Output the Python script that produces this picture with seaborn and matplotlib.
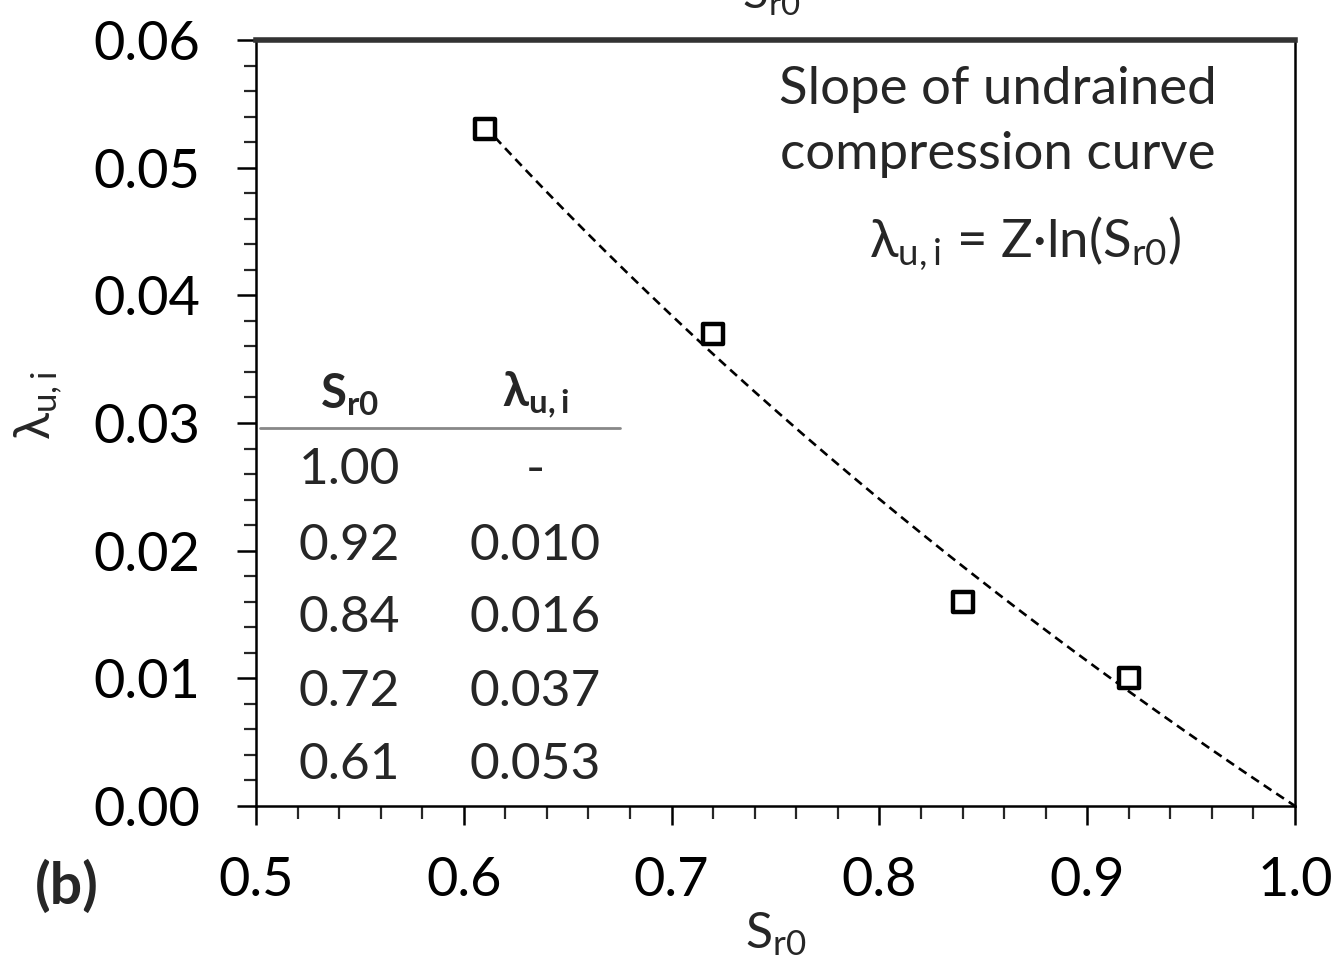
import numpy as np
import pandas as pd
import matplotlib
matplotlib.use("Agg")
import matplotlib.pyplot as plt
import seaborn as sns

# Measured initial degree of saturation and slope of undrained compression curve
sr0 = [0.61, 0.72, 0.84, 0.92]
lam_ui = [0.053, 0.037, 0.016, 0.010]

# Table rows shown inside the plot
table_sr0 = ["1.00", "0.92", "0.84", "0.72", "0.61"]
table_lam = ["-", "0.010", "0.016", "0.037", "0.053"]

x_ticks = [0.5, 0.6, 0.7, 0.8, 0.9, 1.0]
y_ticks = [0.00, 0.01, 0.02, 0.03, 0.04, 0.05, 0.06]

sns.set_theme(style="ticks")
plt.rcParams["font.family"] = ["Lato", "DejaVu Sans"]
plt.rcParams["mathtext.fontset"] = "custom"
plt.rcParams["mathtext.rm"] = "Lato"
plt.rcParams["mathtext.it"] = "Lato"
plt.rcParams["mathtext.bf"] = "Lato:bold"

fig = plt.figure(figsize=(13.43, 9.69), dpi=100)
ax = fig.add_axes([0.1906, 0.1682, 0.9643 - 0.1906, 0.9587 - 0.1682])

# Fit of lambda = Z * ln(Sr0) through the measurements (least squares, no intercept)
ln_s = np.log(np.array(sr0))
Z = np.sum(ln_s * np.array(lam_ui)) / np.sum(ln_s ** 2)
x_fit = np.linspace(min(sr0), 1.0, 200)
fit_df = pd.DataFrame({"Sr0": x_fit, "lam": Z * np.log(x_fit)})
sns.lineplot(data=fit_df, x="Sr0", y="lam", ax=ax, color="black",
             linewidth=1.9, linestyle=(0, (3.5, 2.2)))

pts = pd.DataFrame({"Sr0": sr0, "lam": lam_ui})
sns.scatterplot(data=pts, x="Sr0", y="lam", ax=ax, marker="s", s=200,
                facecolor="white", edgecolor="black", linewidth=3.2, zorder=5)

ax.set_xlim(0.5, 1.0)
ax.set_ylim(0.0, 0.06)
ax.set_xticks(x_ticks)
ax.set_xticklabels([f"{v:.1f}" for v in x_ticks])
ax.set_yticks(y_ticks)
ax.set_yticklabels([f"{v:.2f}" for v in y_ticks])
ax.set_xticks(np.arange(0.5, 1.0001, 0.02), minor=True)
ax.set_yticks(np.arange(0.0, 0.0601, 0.002), minor=True)

ax.tick_params(axis="both", which="major", direction="out", length=14, width=1.8,
               labelsize=39, colors="black")
ax.tick_params(axis="both", which="minor", direction="out", length=9, width=1.6)
ax.tick_params(axis="y", which="major", pad=26)
ax.tick_params(axis="x", which="major", pad=22)

for side in ["left", "bottom", "right"]:
    ax.spines[side].set_linewidth(1.8)
    ax.spines[side].set_color("black")
ax.spines["top"].set_linewidth(4)
ax.spines["top"].set_color("#333333")
ax.spines["right"].set_visible(True)
ax.spines["top"].set_visible(True)

ax.set_xlabel(r"S$_{\mathregular{r0}}$", fontsize=36, labelpad=4)
ax.set_ylabel(r"λ$_{\mathregular{u,i}}$", fontsize=36)
ax.yaxis.set_label_coords(-0.184, 0.523)

# Annotation with the fitted relation
ax.text(0.857, 0.0561, "Slope of undrained", fontsize=38, ha="center", va="center")
ax.text(0.857, 0.0510, "compression curve", fontsize=38, ha="center", va="center")
ax.text(0.870, 0.0441, r"λ$_{\mathregular{u,i}}$ = Z·ln(S$_{\mathregular{r0}}$)",
        fontsize=38, ha="center", va="center")

# Inset table of values
col1_x, col2_x = 0.545, 0.6345
ax.text(col1_x, 0.0322, r"S$_{\mathregular{r0}}$", fontsize=34, ha="center",
        va="center", fontweight="bold")
ax.text(col2_x, 0.0322, r"λ$_{\mathregular{u,i}}$", fontsize=34, ha="center",
        va="center", fontweight="bold")
ax.plot([0.502, 0.675], [0.0296, 0.0296], color="#888888", linewidth=2,
        clip_on=False)
row_y = [0.0263, 0.0204, 0.0147, 0.0089, 0.0032]
for ys, a, b in zip(row_y, table_sr0, table_lam):
    ax.text(col1_x, ys, a, fontsize=37, ha="center", va="center")
    ax.text(col2_x, ys, b, fontsize=37, ha="center", va="center")

# Panel label and the top axis title running off the figure edge
fig.text(0.050, 0.085, "(b)", fontsize=41, fontweight="bold", ha="center",
         va="center")
fig.text(0.574, 1.004, r"S$_{\mathregular{r0}}$", fontsize=34, ha="center",
         va="center")

fig.savefig("out.png", dpi=100, facecolor="white")
